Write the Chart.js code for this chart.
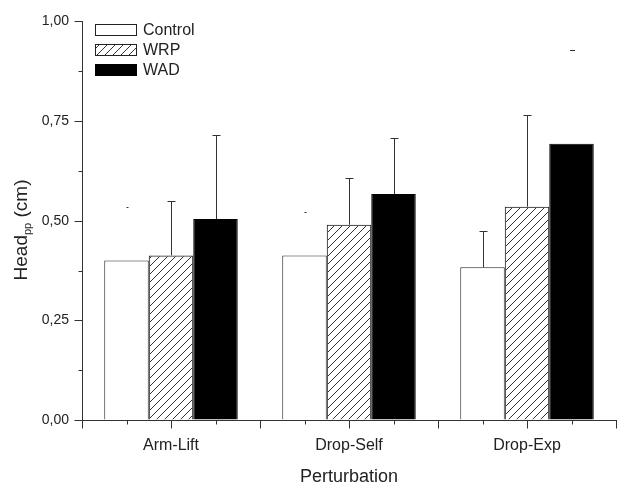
<!DOCTYPE html>
<html>
<head>
<meta charset="utf-8">
<script src="https://cdn.jsdelivr.net/npm/chart.js@4.4.0/dist/chart.umd.min.js"></script>
<style>
  html, body { margin: 0; padding: 0; background: #fff; }
</style>
</head>
<body>
<canvas id="chart" width="619" height="485"></canvas>
<script>
// data
const categories = ["Arm-Lift", "Drop-Self", "Drop-Exp"];
const seriesNames = ["Control", "WRP", "WAD"];
const controlMeans = [0.400, 0.413, 0.383];
const wrpMeans = [0.413, 0.490, 0.535];
const wadMeans = [0.504, 0.567, 0.693];
// top of the error bars (mean + SD)
const controlErrTop = [0.535, 0.522, 0.475];
const wrpErrTop = [0.550, 0.607, 0.765];
const wadErrTop = [0.714, 0.708, 0.929];
const yTicks = [0, 0.25, 0.5, 0.75, 1.0];

const FONT = "'Liberation Sans', Arial, sans-serif";
const INK = "#222";

// error bars whose stem is not visible in the original, only the cap: "series-category" -> cap width
const capOnly = { "0-0": 2, "0-1": 2, "2-2": 5 };

// diagonal hatch for WRP
function hatch() {
  const c = document.createElement("canvas");
  c.width = 8; c.height = 8;
  const g = c.getContext("2d");
  g.strokeStyle = "#333";
  g.lineWidth = 1;
  g.beginPath();
  g.moveTo(0, 8); g.lineTo(8, 0);
  g.moveTo(-1, 1); g.lineTo(1, -1);
  g.moveTo(7, 9); g.lineTo(9, 7);
  g.stroke();
  return g.createPattern(c, "repeat");
}

const extras = {
  id: "extras",
  afterDatasetsDraw(chart) {
    const ctx = chart.ctx, y = chart.scales.y;
    ctx.save();
    ctx.strokeStyle = "#333";
    ctx.lineWidth = 1;
    chart.data.datasets.forEach((ds, di) => {
      chart.getDatasetMeta(di).data.forEach((bar, i) => {
        const cx = Math.round(bar.x) + 0.5;
        const top = Math.round(y.getPixelForValue(ds.errTop[i])) + 0.5;
        const key = di + "-" + i;
        const cap = capOnly[key] || 8;
        ctx.beginPath();
        if (!capOnly[key]) {
          ctx.moveTo(cx, bar.y);
          ctx.lineTo(cx, top);
        }
        ctx.moveTo(cx - cap / 2, top);
        ctx.lineTo(cx + cap / 2, top);
        ctx.stroke();
      });
    });
    ctx.restore();
  },
  afterDraw(chart) {
    const ctx = chart.ctx, x = chart.scales.x, y = chart.scales.y;
    const area = chart.chartArea;
    ctx.save();
    ctx.strokeStyle = "#333";
    ctx.lineWidth = 1;

    // y ticks: major every 0.25, minor in between
    const ax = Math.round(area.left) + 0.5;
    ctx.beginPath();
    for (let k = 0; k <= 8; k++) {
      const py = Math.round(y.getPixelForValue(k * 0.125)) + 0.5;
      const len = k % 2 === 0 ? 8 : 4;
      ctx.moveTo(ax - len, py);
      ctx.lineTo(ax, py);
    }
    // x ticks: at bar centres (minor / major) and category boundaries (major)
    const w = x.getPixelForValue(1) - x.getPixelForValue(0);
    const x0 = x.getPixelForValue(0);
    const by = Math.round(area.bottom) + 0.5;
    for (let k = 0; k <= 12; k++) {
      const px = Math.round(x0 + (-0.5 + k * 0.25) * w) + 0.5;
      const len = k % 2 === 0 ? 8 : 4;
      ctx.moveTo(px, by);
      ctx.lineTo(px, by + len);
    }
    ctx.stroke();

    // legend
    ctx.font = "16px " + FONT;
    ctx.textBaseline = "middle";
    ctx.textAlign = "left";
    chart.data.datasets.forEach((ds, i) => {
      const bx = 95.5, bh = 11, byy = 24.5 + i * 20;
      ctx.fillStyle = ds.backgroundColor;
      ctx.fillRect(bx, byy, 41, bh);
      ctx.strokeStyle = ds.borderColor;
      ctx.strokeRect(bx, byy, 41, bh);
      ctx.fillStyle = INK;
      ctx.fillText(ds.label, 143, byy + bh / 2 + 1);
    });

    // x title
    ctx.font = "18px " + FONT;
    ctx.textAlign = "center";
    ctx.fillText("Perturbation", (area.left + area.right) / 2, 477);

    // y title with subscript
    ctx.translate(27, 230);
    ctx.rotate(-Math.PI / 2);
    ctx.textBaseline = "alphabetic";
    ctx.textAlign = "left";
    const big = "19px " + FONT, small = "11px " + FONT;
    ctx.font = big; const w1 = ctx.measureText("Head").width;
    ctx.font = small; const w2 = ctx.measureText("pp").width;
    ctx.font = big; const w3 = ctx.measureText(" (cm)").width;
    let tx = -(w1 + w2 + w3) / 2;
    ctx.font = big; ctx.fillText("Head", tx, 0); tx += w1;
    ctx.font = small; ctx.fillText("pp", tx, 4); tx += w2;
    ctx.font = big; ctx.fillText(" (cm)", tx, 0);
    ctx.restore();
  }
};

new Chart(document.getElementById("chart"), {
  type: "bar",
  data: {
    labels: categories,
    datasets: [
      { label: seriesNames[0], data: controlMeans, errTop: controlErrTop,
        backgroundColor: "#ffffff", borderColor: "#222" },
      { label: seriesNames[1], data: wrpMeans, errTop: wrpErrTop,
        backgroundColor: hatch(), borderColor: "#222" },
      { label: seriesNames[2], data: wadMeans, errTop: wadErrTop,
        backgroundColor: "#000000", borderColor: "#000" }
    ]
  },
  options: {
    responsive: false,
    devicePixelRatio: 1,
    animation: false,
    layout: { padding: { top: 20, right: 3, left: 0, bottom: 0 } },
    datasets: { bar: { categoryPercentage: 0.75, barPercentage: 1.0, borderWidth: 1 } },
    plugins: { legend: { display: false }, tooltip: { enabled: false } },
    scales: {
      x: {
        grid: { display: true, drawOnChartArea: false, drawTicks: false },
        border: { display: true, color: "#333" },
        ticks: { color: INK, font: { family: FONT, size: 16 }, padding: 16 },
        afterFit(s) { s.height = 65; }
      },
      y: {
        min: 0, max: 1,
        afterBuildTicks(s) { s.ticks = yTicks.map(v => ({ value: v })); },
        grid: { display: true, drawOnChartArea: false, drawTicks: false },
        border: { display: true, color: "#333" },
        ticks: {
          color: INK, font: { family: FONT, size: 14 }, padding: 13,
          callback: v => v.toFixed(2).replace(".", ",")
        },
        afterFit(s) { s.width = 82; }
      }
    }
  },
  plugins: [extras]
});
</script>
</body>
</html>
